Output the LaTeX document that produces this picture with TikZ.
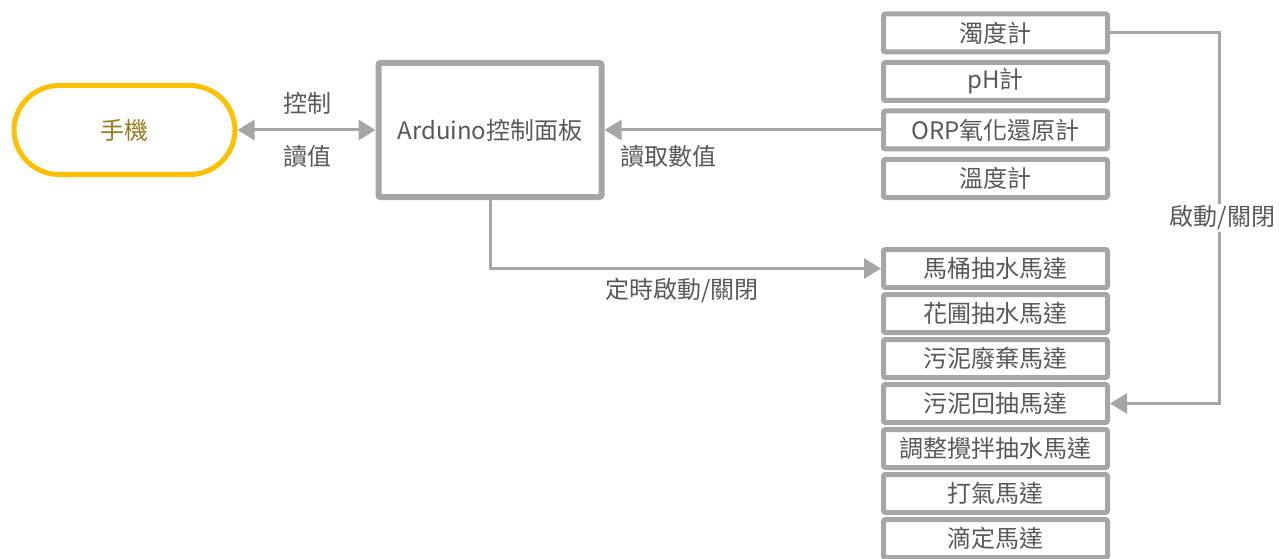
\documentclass[tikz,border=0pt]{standalone}
\usepackage{fontspec}
\setmainfont{Noto Sans CJK TC}
\usetikzlibrary{arrows.meta,calc}
\definecolor{bgray}{HTML}{A6A6A6}
\definecolor{tgray}{HTML}{595959}
\definecolor{gold}{HTML}{FFC000}
\definecolor{goldtext}{HTML}{9C7A1E}
\tikzset{
  x=1pt,y=-1pt,
  every node/.style={font=\fontsize{24}{28}\selectfont, text=tgray},
  sensorbox/.style={draw=bgray, line width=5pt, rounded corners=2pt, minimum width=224pt, minimum height=38pt, inner sep=0pt},
  mainbox/.style={draw=bgray, line width=6pt, rounded corners=2pt, minimum width=223pt, minimum height=134pt, inner sep=0pt},
  phonebox/.style={draw=gold, line width=5pt, rounded corners=45pt, minimum width=221pt, minimum height=89pt, inner sep=0pt},
  conn/.style={draw=bgray, line width=3pt},
  tip/.style={-{Triangle[width=20pt,length=17pt]}},
  lbl/.style={fill=white, inner sep=2pt}
}
\begin{document}
\begin{tikzpicture}
\useasboundingbox (0,0) rectangle (1288,559);
\node[phonebox] (phone) at (124.5,130) {\textcolor{goldtext}{手機}};
\node[mainbox] (ard) at (490,130) {Arduino控制面板};
% sensors
\node[sensorbox] (s1) at (995.5,33) {濁度計};
\node[sensorbox] (s2) at (995.5,81.5) {pH計};
\node[sensorbox] (s3) at (995.5,130) {ORP氧化還原計};
\node[sensorbox] (s4) at (995.5,178.5) {溫度計};
% motors
\node[sensorbox] (m1) at (995.5,268.5) {馬桶抽水馬達};
\node[sensorbox] (m2) at (995.5,313.5) {花圃抽水馬達};
\node[sensorbox] (m3) at (995.5,358.5) {污泥廢棄馬達};
\node[sensorbox] (m4) at (995.5,403.5) {污泥回抽馬達};
\node[sensorbox] (m5) at (995.5,448.5) {調整攪拌抽水馬達};
\node[sensorbox] (m6) at (995.5,493.5) {打氣馬達};
\node[sensorbox] (m7) at (995.5,538.5) {滴定馬達};
% connectors
\draw[conn, {Triangle[width=20pt,length=17pt]}-{Triangle[width=20pt,length=17pt]}] (phone.east) -- (ard.west);
\node (ctl) at (307.5,103) {控制};
\node (rd) at (307.5,156) {讀值};
\draw[conn, tip] (s3.west) -- (ard.east);
\node (rdv) at (668,156) {讀取數值};
\coordinate (c1) at (490,268.5);
\draw[conn, tip] (ard.south) -- (c1) -- (m1.west);
\node (tim) at (682,290) {定時啟動/關閉};
\coordinate (c2) at (1219,33);
\coordinate (c3) at (1219,403.5);
\draw[conn, tip] (s1.east) -- (c2) -- (c3) -- (m4.east);
\node[lbl] (onoff) at (1222.5,218) {啟動/關閉};
\end{tikzpicture}
\end{document}
